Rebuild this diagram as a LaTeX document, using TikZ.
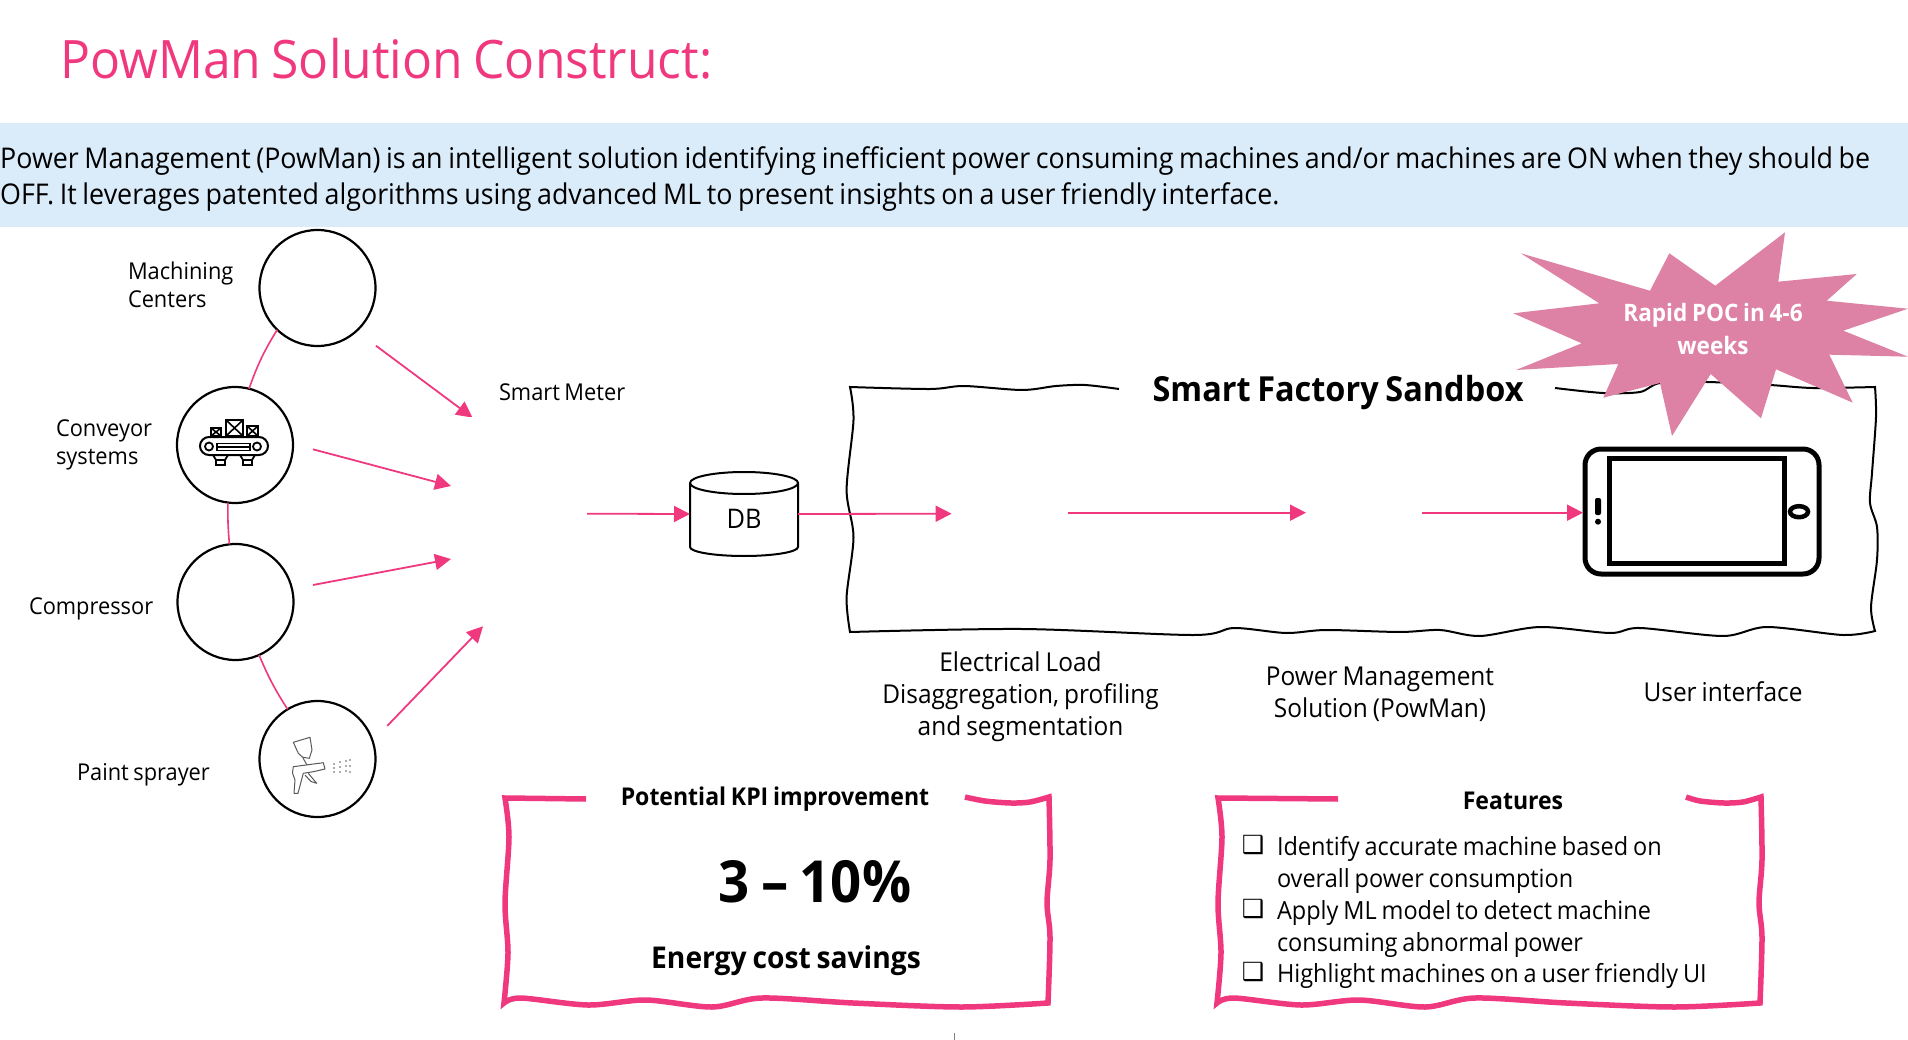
\documentclass[tikz,border=0pt]{standalone}
\usepackage{fontspec}
\usepackage{tikz}
\usetikzlibrary{arrows.meta}
\setmainfont[FakeStretch=0.94,WordSpace=0.8]{Open Sans}
\newfontfamily\symfont{DejaVu Sans}
\definecolor{powpink}{HTML}{F0387F}
\definecolor{starpink}{HTML}{DE82A5}
\definecolor{bandblue}{HTML}{DAEBF9}
\tikzset{
  machine/.style={circle,draw=black,line width=2.2pt,minimum size=116pt,inner sep=0pt,outer sep=0pt},
  flow/.style={draw=powpink,line width=1.8pt,-{Triangle[length=16pt,width=16pt]}},
  link/.style={draw=powpink,line width=1.6pt},
  sketch/.style={draw=black,line width=2pt,line join=miter},
  pinksketch/.style={draw=powpink,line width=5.5pt,line join=miter},
  lbl/.style={inner sep=0pt,outer sep=0pt,font=\fontsize{23.2}{28}\selectfont,align=left},
  lblmid/.style={inner sep=0pt,outer sep=0pt,font=\fontsize{26}{32}\selectfont,align=center},
  feat/.style={inner sep=0pt,outer sep=0pt,anchor=west,font=\fontsize{25}{32}\selectfont},
  tick/.style={inner sep=0pt,outer sep=0pt,font=\symfont\bfseries\fontsize{25}{25}\selectfont},
  head/.style={inner sep=0pt,outer sep=0pt,font=\bfseries\fontsize{24.5}{32}\selectfont}
}
\begin{document}
\begin{tikzpicture}[x=1pt,y=-1pt]
\useasboundingbox (0,0) rectangle (1908,1040);
\fill[bandblue] (0,123) rectangle (1908,227);

\node[inner sep=0pt,anchor=base west,text=powpink,font=\fontsize{53}{60}\selectfont] (title) at (60,79) {PowMan Solution Construct:};
\node[inner sep=0pt,anchor=north west,align=left,font=\fontsize{28.55}{36}\selectfont] (intro) at (0,146) {Power Management (PowMan) is an intelligent solution identifying inefficient power consuming machines and/or machines are ON when they should be\\OFF. It leverages patented algorithms using advanced ML to present insights on a user friendly interface.};

\node[machine] (mach) at (317.5,288) {};
\node[machine] (conv) at (235,445) {};
\node[machine] (comp) at (235.5,602) {};
\node[machine] (paint) at (317.5,759) {};

\draw[link] (mach.226.5) to[bend right=6] (conv.76);
\draw[link] (conv.263) to[bend right=3] (comp.96);
\draw[link] (comp.294) to[bend right=5] (paint.121);

\node[lbl,anchor=west] (machlbl) at (128,285) {Machining\\Centers};
\node[lbl,anchor=west] (convlbl) at (56,445) {Conveyor\\systems};
\node[lbl,anchor=west] (complbl) at (29,609) {Compressor};
\node[lbl,anchor=west] (paintlbl) at (77,775) {Paint sprayer};
\node[lbl,anchor=west] (meterlbl) at (499,392) {Smart Meter};

\coordinate (m1) at (472.5,417.6);
\coordinate (m2) at (451,486);
\coordinate (m3) at (451,559);
\coordinate (m4) at (483,626.3);
\coordinate (mout) at (587,513.7);
\coordinate (loadin) at (951.6,513.7);
\coordinate (loadout) at (1068,512.7);
\coordinate (solin) at (1306,512.7);
\coordinate (solout) at (1422,512.7);
\coordinate (phonein) at (1583,512.7);

\draw[flow,shorten <=24.5pt] (mach.-48) -- (m1);
\draw[flow,shorten <=20.7pt] (conv.1.4) -- (m2);
\draw[flow,shorten <=21.4pt] (comp.13.6) -- (m3);
\draw[flow,shorten <=21pt] (paint.18.8) -- (m4);
\fill[white] (450,417) rectangle (490,425);

\node[inner sep=0pt,outer sep=0pt,minimum width=108pt,minimum height=84pt,font=\fontsize{27}{30}\selectfont] (db) at (744,514) {\raisebox{-14pt}[0pt][0pt]{DB}};
\draw[black,line width=2pt] ([yshift=-11pt]db.north west) arc[start angle=180,end angle=0,x radius=54pt,y radius=11pt] -- ([yshift=9pt]db.south east) arc[start angle=0,end angle=-180,x radius=54pt,y radius=9pt] -- cycle;
\draw[black,line width=2pt] ([yshift=-11pt]db.north west) arc[start angle=180,end angle=360,x radius=54pt,y radius=11pt];
\draw[flow] (mout) -- (db.west);

\draw[sketch] plot[smooth] coordinates {(1119,389) (1085,385) (1056,386) (1022,390) (964,386) (930,389) (850,387)}
 -- plot[smooth] coordinates {(850,387) (853.5,420) (846.6,490) (853.5,537) (846.6,597) (850,632)}
 -- plot[smooth] coordinates {(850,632) (1022,629) (1194,635) (1234,628) (1286,633) (1326,630) (1400,632) (1440,630) (1480,636) (1540,627) (1610,633) (1640,628) (1723,636) (1767,627) (1843,635) (1875,631)}
 -- plot[smooth] coordinates {(1875,631) (1871,607) (1877,560) (1877,527) (1870,503) (1872,473) (1876,417) (1875,387)}
 -- plot[smooth] coordinates {(1875,387) (1813,388) (1770,385) (1707,382) (1660,383) (1640,392) (1603,393) (1555,388)};

\draw[flow] (db.east) -- (loadin);
\draw[flow] (loadout) -- (solin);

\node[draw=black,line width=5pt,rounded corners=16pt,inner sep=0pt,outer sep=0pt,minimum width=234pt,minimum height=125pt] (phone) at (1702,511.5) {};
\node[draw=black,line width=5pt,inner sep=0pt,outer sep=0pt,minimum width=175pt,minimum height=105pt] (tablet) at (1697,511) {};
\draw[flow] (solout) -- (phonein);
\fill[black,rounded corners=2pt] (1595,498) rectangle (1601,515);
\fill[black] (1598,521.7) circle (3pt);
\draw[black,line width=4.5pt] (1799,511.7) ellipse (9pt and 5.5pt);

\node[inner sep=0pt,outer sep=0pt,font=\bfseries\fontsize{34.5}{36}\selectfont] (sandbox) at (1338,393) {Smart Factory Sandbox};

\fill[starpink] (1520.7,253.3) -- (1650,290.7) -- (1669.3,253.3) -- (1715.3,285.7) -- (1785,232.3) -- (1778.3,281.7) -- (1856.7,274) -- (1826.7,300.7) -- (1908,308.7) -- (1843.3,330.7) -- (1908,356.7) -- (1829.3,354.7) -- (1852.7,402.7) -- (1776,369.3) -- (1761,418.3) -- (1710.7,374) -- (1672,436) -- (1660,383) -- (1603.3,397.7) -- (1618.3,364) -- (1516,370) -- (1581.7,343.3) -- (1513.3,313.3) -- (1599.3,303.3) -- cycle;
\node[inner sep=0pt,outer sep=0pt,text=white,align=center,font=\bfseries\fontsize{24}{33}\selectfont] (poc) at (1713,329) {Rapid POC in 4-6\\weeks};

\node[lblmid] (loadlbl) at (1020.5,697) {Electrical Load\\Disaggregation, profiling\\and segmentation};
\node[lblmid] (sollbl) at (1380,694) {Power Management\\Solution (PowMan)};
\node[lblmid] (uilbl) at (1723,692) {User interface};

\draw[pinksketch] plot[smooth] coordinates {(586,799) (505,798)}
 -- plot[smooth] coordinates {(505,798) (509,837) (505,903) (508,953) (504,1003)}
 -- plot[smooth] coordinates {(504,1003) (521,998) (588,1005) (646,1000) (712,1007) (762,998) (853,1003) (961,1007) (1048,1003)}
 -- plot[smooth] coordinates {(1048,1003) (1050,937) (1047,903) (1050,860) (1049,797)}
 -- plot[smooth] coordinates {(1049,797) (1030,802) (1011,803) (985,801) (965,797)};

\node[head] (kpihead) at (775,799) {Potential KPI improvement};
\node[inner sep=0pt,outer sep=0pt,font=\bfseries\fontsize{58}{60}\selectfont] (kpival) at (815,882) {3 -- 10\%};
\node[inner sep=0pt,outer sep=0pt,font=\bfseries\fontsize{30}{34}\selectfont] (kpitxt) at (786,961) {Energy cost savings};

\draw[pinksketch] plot[smooth] coordinates {(1338,799) (1218,798)}
 -- plot[smooth] coordinates {(1218,798) (1222,837) (1218,903) (1221,953) (1217,1003)}
 -- plot[smooth] coordinates {(1217,1003) (1234,998) (1301,1005) (1359,1000) (1425,1007) (1475,998) (1566,1003) (1674,1007) (1760,1003)}
 -- plot[smooth] coordinates {(1760,1003) (1762,937) (1759,903) (1762,860) (1761,797)}
 -- plot[smooth] coordinates {(1761,797) (1743,802) (1724,803) (1700,801) (1686,797)};

\node[head] (feathead) at (1513,801) {Features};
\node[tick] (t1) at (1253,845) {❑};
\node[feat] (f1) at (1277,849) {Identify accurate machine based on};
\node[feat] (f2) at (1277,881) {overall power consumption};
\node[tick] (t2) at (1253,909) {❑};
\node[feat] (f3) at (1277,913) {Apply ML model to detect machine};
\node[feat] (f4) at (1277,945) {consuming abnormal power};
\node[tick] (t3) at (1253,972) {❑};
\node[feat] (f5) at (1277,976) {Highlight machines on a user friendly UI};

\draw[black,line width=2pt,rounded corners=9pt] (200,437) rectangle (268,455);
\draw[black,line width=1.8pt] (209,446.5) circle (4pt);
\draw[black,line width=1.8pt] (257,446.5) circle (4pt);
\draw[black,line width=1.8pt] (217,443.5) rectangle (250,450.5);
\draw[black,line width=1.6pt] (217,447) -- (250,447);
\foreach \xa/\ya/\xb in {211/428/221,226/420/243,247/426/258}
  \draw[black,line width=1.6pt] (\xa,\ya) rectangle (\xb,436) (\xa,\ya) -- (\xb,436) (\xa,436) -- (\xb,\ya);
\foreach \xa in {213,240}
  \draw[black,line width=1.8pt] (\xa,455) -- (\xa+3,460) -- (\xa+12,460) -- (\xa+15,455) (\xa+3,460) rectangle (\xa+12,465);

\draw[black!65,line width=1pt,line join=round] (293.3,742.3) -- (310,737.3) -- (312,750) -- (309.3,758.3) -- (302.7,757.3) -- (298.3,753.3) -- cycle;
\draw[black!65,line width=1pt,line join=round] (293.3,766.7) -- (323.3,762.7) -- (325,769) -- (313.3,771.7) -- (303.3,773.3) -- (298,793.3) -- (294,793.3) -- (295,780) -- (292.5,773) -- cycle;
\draw[black!65,line width=1pt,line join=round] (303,758) -- (307,765) (308.3,773.3) -- (316.7,783.3) -- (311,781.5) -- (305,775);
\foreach \xa/\ya in {334/764,334/768,334/772,340/762,340/767,340/772,346/761,346/766,346/771,350/760,350/766,350/772}
  \fill[black!65] (\xa,\ya) circle (.8pt);

\draw[black!50,line width=1pt] (954,1033) -- (954,1040);
\end{tikzpicture}
\end{document}
